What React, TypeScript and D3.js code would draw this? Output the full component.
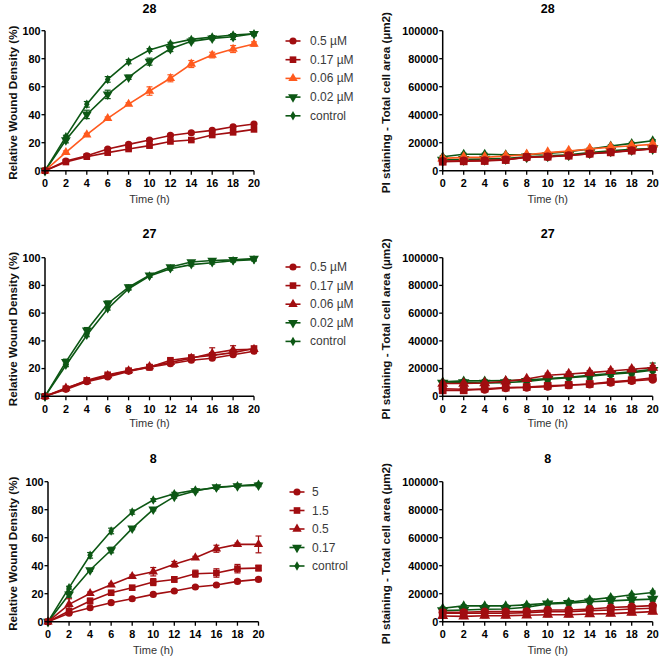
import React from 'react';
import * as d3 from 'd3';

// ---------- data ----------
const TIME = [0, 2, 4, 6, 8, 10, 12, 14, 16, 18, 20];
const WOUND_TICKS = [0, 20, 40, 60, 80, 100];
const PI_TICKS = [0, 20000, 40000, 60000, 80000, 100000];
const TITLES = ['28', '27', '8'];
const LEGEND_28 = ['0.5 µM', '0.17 µM', '0.06 µM', '0.02 µM', 'control'];
const LEGEND_27 = ['0.5 µM', '0.17 µM', '0.06 µM', '0.02 µM', 'control'];
const LEGEND_8 = ['5', '1.5', '0.5', '0.17', 'control'];

// Compound 28 – wound density (%)
const W28_05 = [0, 6.9, 10.7, 15.5, 18.8, 21.9, 25.2, 27.1, 28.8, 31.4, 33.3];
const W28_017 = [0, 6.2, 10, 12.9, 15.5, 17.9, 20.9, 21.9, 25.5, 27.4, 29.5];
const W28_006 = [0, 13.1, 25.7, 37.4, 47.6, 56.9, 66, 76.2, 82.6, 86.9, 90.5];
const W28_002 = [0, 21.9, 40.2, 54.5, 66.7, 77.9, 87.1, 92.4, 94.5, 95.7, 97.8];
const W28_CTRL = [0, 24.3, 47.4, 65.2, 77.9, 86.2, 90.7, 93.8, 95.5, 96.9, 97.8];
const W28_05_ERR = [0, 1, 1, 1, 1, 1, 1, 1, 1, 1, 1];
const W28_017_ERR = [0, 1, 1, 1, 1, 1, 1, 1, 1, 1, 1];
const W28_006_ERR = [0, 1, 1, 1, 1, 3, 2.5, 2.5, 2, 2.5, 1.5];
const W28_002_ERR = [0, 2, 3, 3, 1.5, 2.5, 2, 1, 1, 2, 1.5];
const W28_CTRL_ERR = [0, 1, 2, 2, 1.5, 1, 1, 1, 1, 1, 1];

// Compound 27 – wound density (%)
const W27_05 = [0, 5, 10.5, 14, 18, 21, 23.5, 26, 27.5, 30, 32.5];
const W27_017 = [0, 5.5, 11.5, 15.5, 18.5, 21, 26, 28, 29.5, 31.5, 34.5];
const W27_006 = [0, 6, 11, 15, 18.5, 21.5, 24.5, 27.5, 31, 33.5, 34];
const W27_002 = [0, 24.8, 47.6, 66.8, 78.8, 87.3, 93.3, 96.9, 98, 98.4, 99.3];
const W27_CTRL = [0, 22.4, 44, 63.2, 77.6, 86.8, 92, 95, 96.4, 97.8, 98.6];
const W27_05_ERR = [0, 1, 1, 1, 1, 1, 1, 1, 1, 1, 1];
const W27_017_ERR = [0, 1, 1, 1, 1, 2, 1, 1, 2, 2, 1];
const W27_006_ERR = [0, 1, 1, 1, 1, 1, 1, 1, 4, 3, 1];
const W27_002_ERR = [0, 2, 2, 2, 1.5, 1, 1, 1, 1, 1, 1];
const W27_CTRL_ERR = [0, 1, 1, 1, 1, 1, 1, 1, 1, 1, 1];

// Compound 8 – wound density (%)
const W8_5 = [0, 6, 10, 13.6, 16.4, 19.5, 21.9, 24.8, 26.2, 28.8, 30.2];
const W8_15 = [0, 7.6, 14.8, 20.7, 24.3, 28.3, 30.2, 34.3, 34.8, 37.9, 38.3];
const W8_05 = [0, 12.4, 20.2, 26.4, 32.4, 35.7, 41, 45.7, 52.1, 55.2, 55.2];
const W8_017 = [0, 19.5, 36.9, 51.2, 66.7, 80.2, 89.3, 93.3, 96.2, 96.9, 97.4];
const W8_CTRL = [0, 24.3, 47.4, 64.8, 78.3, 86.9, 91.4, 94, 95.7, 97.1, 98.1];
const W8_5_ERR = [0, 1, 1, 1, 1, 1, 1, 1, 1, 1, 1];
const W8_15_ERR = [0, 2, 2, 1, 1, 2.5, 2, 2.5, 3, 3, 2];
const W8_05_ERR = [0, 4, 1, 1, 1, 3, 2, 1, 2.5, 1, 6];
const W8_017_ERR = [0, 2, 1, 2, 1, 1, 1, 1, 1, 1, 1];
const W8_CTRL_ERR = [0, 1, 2, 2, 1.5, 1, 1, 1, 1, 1, 1];

// Compound 28 – PI staining (µm2)
const P28_05 = [6900, 7100, 7400, 7900, 9500, 10000, 10900, 12100, 13300, 14500, 15700];
const P28_017 = [6400, 6700, 6900, 7600, 9800, 10000, 10700, 12100, 13100, 14300, 15500];
const P28_006 = [8800, 9500, 9500, 10500, 11400, 12900, 14000, 15500, 16700, 17800, 18800];
const P28_002 = [7600, 8100, 8300, 8800, 10000, 10700, 11400, 12900, 14300, 15200, 15900];
const P28_CTRL = [10000, 11700, 11700, 11400, 11400, 12400, 13600, 15500, 17600, 19500, 21400];
const P28_05_ERR = [1000, 1000, 1000, 1000, 1000, 1000, 1000, 1000, 1000, 1000, 1000];
const P28_017_ERR = [1000, 1000, 1000, 1000, 1000, 1000, 1000, 1000, 1000, 1000, 1000];
const P28_006_ERR = [800, 800, 800, 800, 800, 800, 800, 800, 800, 800, 800];
const P28_002_ERR = [800, 800, 800, 800, 800, 800, 800, 800, 800, 800, 800];
const P28_CTRL_ERR = [800, 800, 800, 800, 800, 800, 800, 800, 800, 800, 800];

// Compound 27 – PI staining (µm2)
const P27_05 = [5500, 5100, 4800, 6000, 6300, 7000, 8000, 8700, 9900, 11100, 12100];
const P27_017 = [4300, 4300, 5500, 6300, 6700, 7500, 8200, 8900, 10400, 11600, 13300];
const P27_006 = [9200, 9200, 9600, 10800, 12500, 15200, 16100, 17100, 18300, 19500, 20700];
const P27_002 = [9600, 9900, 9600, 9900, 10800, 12300, 13500, 14500, 15900, 17100, 18800];
const P27_CTRL = [10400, 11100, 11100, 11300, 11800, 12800, 13700, 15200, 16400, 17600, 19500];
const P27_05_ERR = [1500, 1500, 1500, 1500, 1500, 1500, 1500, 1500, 1500, 1500, 1500];
const P27_017_ERR = [1500, 1500, 1500, 1500, 1500, 1500, 1500, 1500, 1500, 1500, 2500];
const P27_006_ERR = [1000, 1000, 1000, 1000, 1000, 1500, 1500, 1500, 1500, 1500, 1500];
const P27_002_ERR = [1000, 1000, 1000, 1000, 1000, 1500, 1500, 1500, 1500, 1500, 1500];
const P27_CTRL_ERR = [1000, 1000, 1000, 1000, 1000, 3000, 3000, 3000, 2000, 3000, 4500];

// Compound 8 – PI staining (µm2)
const P8_5 = [6700, 6700, 7200, 7200, 7400, 8400, 8400, 9100, 10100, 10800, 11500];
const P8_15 = [6000, 6000, 6000, 6000, 6500, 7200, 7200, 7900, 8400, 9100, 9600];
const P8_05 = [4100, 3800, 4300, 4300, 4600, 5000, 5000, 5500, 5800, 6500, 7200];
const P8_017 = [7900, 8400, 8900, 9100, 10300, 12700, 13200, 14200, 14900, 15600, 16100];
const P8_CTRL = [9600, 11300, 11300, 11300, 12000, 13200, 13900, 15600, 17300, 19200, 20900];
const P8_5_ERR = [1500, 1500, 1500, 1500, 1500, 1500, 1500, 1500, 1500, 1500, 1500];
const P8_15_ERR = [1500, 1500, 1500, 1500, 1500, 1500, 1500, 1500, 1500, 1500, 1500];
const P8_05_ERR = [1500, 1500, 1500, 1500, 1500, 1500, 1500, 1500, 1500, 1500, 1500];
const P8_017_ERR = [1000, 1000, 1000, 1000, 1000, 1500, 2000, 2500, 2000, 2000, 1500];
const P8_CTRL_ERR = [800, 800, 800, 800, 800, 800, 800, 800, 800, 800, 1000];

// ---------- styling ----------
const RED = '#a10d10';
const ORANGE = '#ff5a1e';
const GREEN = '#0c5714';
const SHAPES = ['circle', 'square', 'triangle', 'triangleDown', 'diamond'];
const COLORS_28 = [RED, RED, ORANGE, GREEN, GREEN];
const COLORS_OTHER = [RED, RED, RED, GREEN, GREEN];

const ROWS = [
  {
    title: TITLES[0], legend: LEGEND_28, colors: COLORS_28,
    wound: [W28_05, W28_017, W28_006, W28_002, W28_CTRL],
    woundErr: [W28_05_ERR, W28_017_ERR, W28_006_ERR, W28_002_ERR, W28_CTRL_ERR],
    pi: [P28_05, P28_017, P28_006, P28_002, P28_CTRL],
    piErr: [P28_05_ERR, P28_017_ERR, P28_006_ERR, P28_002_ERR, P28_CTRL_ERR],
    L: { x0: 45, x1: 254, y0: 30.7, y1: 170.7 },
    R: { x0: 442.7, x1: 652.7, y0: 30.7, y1: 170.7 },
    titleY: 13, timeY: 203, leg: { mx: 293, tx: 310, y: 41, dy: 18.7 },
  },
  {
    title: TITLES[1], legend: LEGEND_27, colors: COLORS_OTHER,
    wound: [W27_05, W27_017, W27_006, W27_002, W27_CTRL],
    woundErr: [W27_05_ERR, W27_017_ERR, W27_006_ERR, W27_002_ERR, W27_CTRL_ERR],
    pi: [P27_05, P27_017, P27_006, P27_002, P27_CTRL],
    piErr: [P27_05_ERR, P27_017_ERR, P27_006_ERR, P27_002_ERR, P27_CTRL_ERR],
    L: { x0: 45, x1: 254, y0: 257.7, y1: 396.3 },
    R: { x0: 442.7, x1: 652.7, y0: 257.7, y1: 396.3 },
    titleY: 238, timeY: 427, leg: { mx: 293, tx: 310, y: 267, dy: 18.6 },
  },
  {
    title: TITLES[2], legend: LEGEND_8, colors: COLORS_OTHER,
    wound: [W8_5, W8_15, W8_05, W8_017, W8_CTRL],
    woundErr: [W8_5_ERR, W8_15_ERR, W8_05_ERR, W8_017_ERR, W8_CTRL_ERR],
    pi: [P8_5, P8_15, P8_05, P8_017, P8_CTRL],
    piErr: [P8_5_ERR, P8_15_ERR, P8_05_ERR, P8_017_ERR, P8_CTRL_ERR],
    L: { x0: 48, x1: 258.5, y0: 481.7, y1: 621.7 },
    R: { x0: 442.7, x1: 652.7, y0: 481.7, y1: 621.7 },
    titleY: 463, timeY: 654, leg: { mx: 297, tx: 312, y: 492, dy: 18.5 },
  },
];

function symbolPath(shape: string, k: number) {
  switch (shape) {
    case 'circle': return d3.symbol(d3.symbolCircle, 40 * k)()!;
    case 'square': return d3.symbol(d3.symbolSquare, 44 * k)()!;
    case 'triangle': return d3.symbol(d3.symbolTriangle, 38 * k)()!;
    case 'triangleDown': return d3.symbol(d3.symbolTriangle, 42 * k)()!;
    default: return d3.symbol(d3.symbolDiamond, 26 * k)()!;
  }
}

function Marker({ shape, color, x, y, k = 1 }: any) {
  const rot = shape === 'triangleDown' ? ' rotate(180)' : '';
  return <path d={symbolPath(shape, k)} transform={`translate(${x},${y})${rot}`} fill={color} />;
}

const FONT = 'Liberation Sans, Arial, sans-serif';

function Panel({ box, yMax, yTicks, series, errs, colors, title, titleY, timeY, yLabel, labelX, fmt, mk }: any) {
  const x = d3.scaleLinear().domain([0, 20]).range([box.x0, box.x1]);
  const y = d3.scaleLinear().domain([0, yMax]).range([box.y1, box.y0]);
  const line = d3.line<number>().x((_, i) => x(TIME[i])).y(d => y(d));
  const cx = (box.x0 + box.x1) / 2;
  const cy = (box.y0 + box.y1) / 2;
  const order = [4, 3, 2, 1, 0];
  return (
    <g>
      <text x={cx} y={titleY} textAnchor="middle" fontFamily={FONT} fontWeight="bold" fontSize={12.5} fill="#000">{title}</text>
      {order.map(si => (
        <g key={si}>
          <path d={line(series[si])!} fill="none" stroke={colors[si]} strokeWidth={1.6} />
          {series[si].map((v: number, i: number) => {
            const e = errs[si][i];
            if (!e) return null;
            const px = x(TIME[i]);
            return (
              <g key={i} stroke={colors[si]} strokeWidth={1.2}>
                <line x1={px} x2={px} y1={y(v - e)} y2={y(v + e)} />
                <line x1={px - 3} x2={px + 3} y1={y(v + e)} y2={y(v + e)} />
                <line x1={px - 3} x2={px + 3} y1={y(v - e)} y2={y(v - e)} />
              </g>
            );
          })}
          {series[si].map((v: number, i: number) => (
            <Marker key={'m' + i} shape={SHAPES[si]} color={colors[si]} x={x(TIME[i])} y={y(v)} k={mk} />
          ))}
        </g>
      ))}
      {/* axes */}
      <line x1={box.x0} x2={box.x0} y1={box.y0} y2={box.y1 + 0.75} stroke="#000" strokeWidth={1.5} />
      <line x1={box.x0 - 0.75} x2={box.x1} y1={box.y1} y2={box.y1} stroke="#000" strokeWidth={1.5} />
      {yTicks.map((t: number) => (
        <g key={t}>
          <line x1={box.x0 - 3.5} x2={box.x0} y1={y(t)} y2={y(t)} stroke="#000" strokeWidth={1.3} />
          <text x={box.x0 - 4.5} y={y(t) + 3.8} textAnchor="end" fontFamily={FONT} fontWeight="bold" fontSize={10.8} fill="#000">{fmt(t)}</text>
        </g>
      ))}
      {TIME.map(t => (
        <g key={t}>
          <line x1={x(t)} x2={x(t)} y1={box.y1} y2={box.y1 + 4} stroke="#000" strokeWidth={1.3} />
          <text x={x(t)} y={box.y1 + 16.5} textAnchor="middle" fontFamily={FONT} fontWeight="bold" fontSize={10.8} fill="#000">{t}</text>
        </g>
      ))}
      <text x={cx} y={timeY} textAnchor="middle" fontFamily={FONT} fontSize={11} fill="#333">Time (h)</text>
      <text transform={`translate(${labelX},${cy + 2}) rotate(-90)`} textAnchor="middle" dominantBaseline="central" fontFamily={FONT} fontWeight="bold" fontSize={11.7} fill="#111">{yLabel}</text>
    </g>
  );
}

function Legend({ leg, labels, colors }: any) {
  return (
    <g>
      {labels.map((lab: string, i: number) => {
        const yy = leg.y + i * leg.dy;
        return (
          <g key={i}>
            <line x1={leg.mx - 7.5} x2={leg.mx + 7.5} y1={yy} y2={yy} stroke={colors[i]} strokeWidth={1.6} />
            <Marker shape={SHAPES[i]} color={colors[i]} x={leg.mx} y={yy} />
            <text x={leg.tx} y={yy + 4} fontFamily={FONT} fontSize={12} fill="#3a3a3a">{lab}</text>
          </g>
        );
      })}
    </g>
  );
}

export default function App() {
  return (
    <svg width={660} height={658} style={{ position: 'absolute', left: 0, top: 0, background: '#fff' }}>
      <rect width={660} height={658} fill="#fff" />
      {ROWS.map((r, k) => (
        <g key={k}>
          <Panel box={r.L} yMax={100} yTicks={WOUND_TICKS} series={r.wound} errs={r.woundErr} colors={r.colors} mk={1}
            title={r.title} titleY={r.titleY} timeY={r.timeY} yLabel="Relative Wound Density (%)" labelX={12.7} fmt={(t: number) => String(t)} />
          <Panel box={r.R} yMax={100000} yTicks={PI_TICKS} series={r.pi} errs={r.piErr} colors={r.colors} mk={1.35}
            title={r.title} titleY={r.titleY} timeY={r.timeY} yLabel="PI staining - Total cell area (µm2)" labelX={385} fmt={(t: number) => String(t)} />
          <Legend leg={r.leg} labels={r.legend} colors={r.colors} />
        </g>
      ))}
    </svg>
  );
}
